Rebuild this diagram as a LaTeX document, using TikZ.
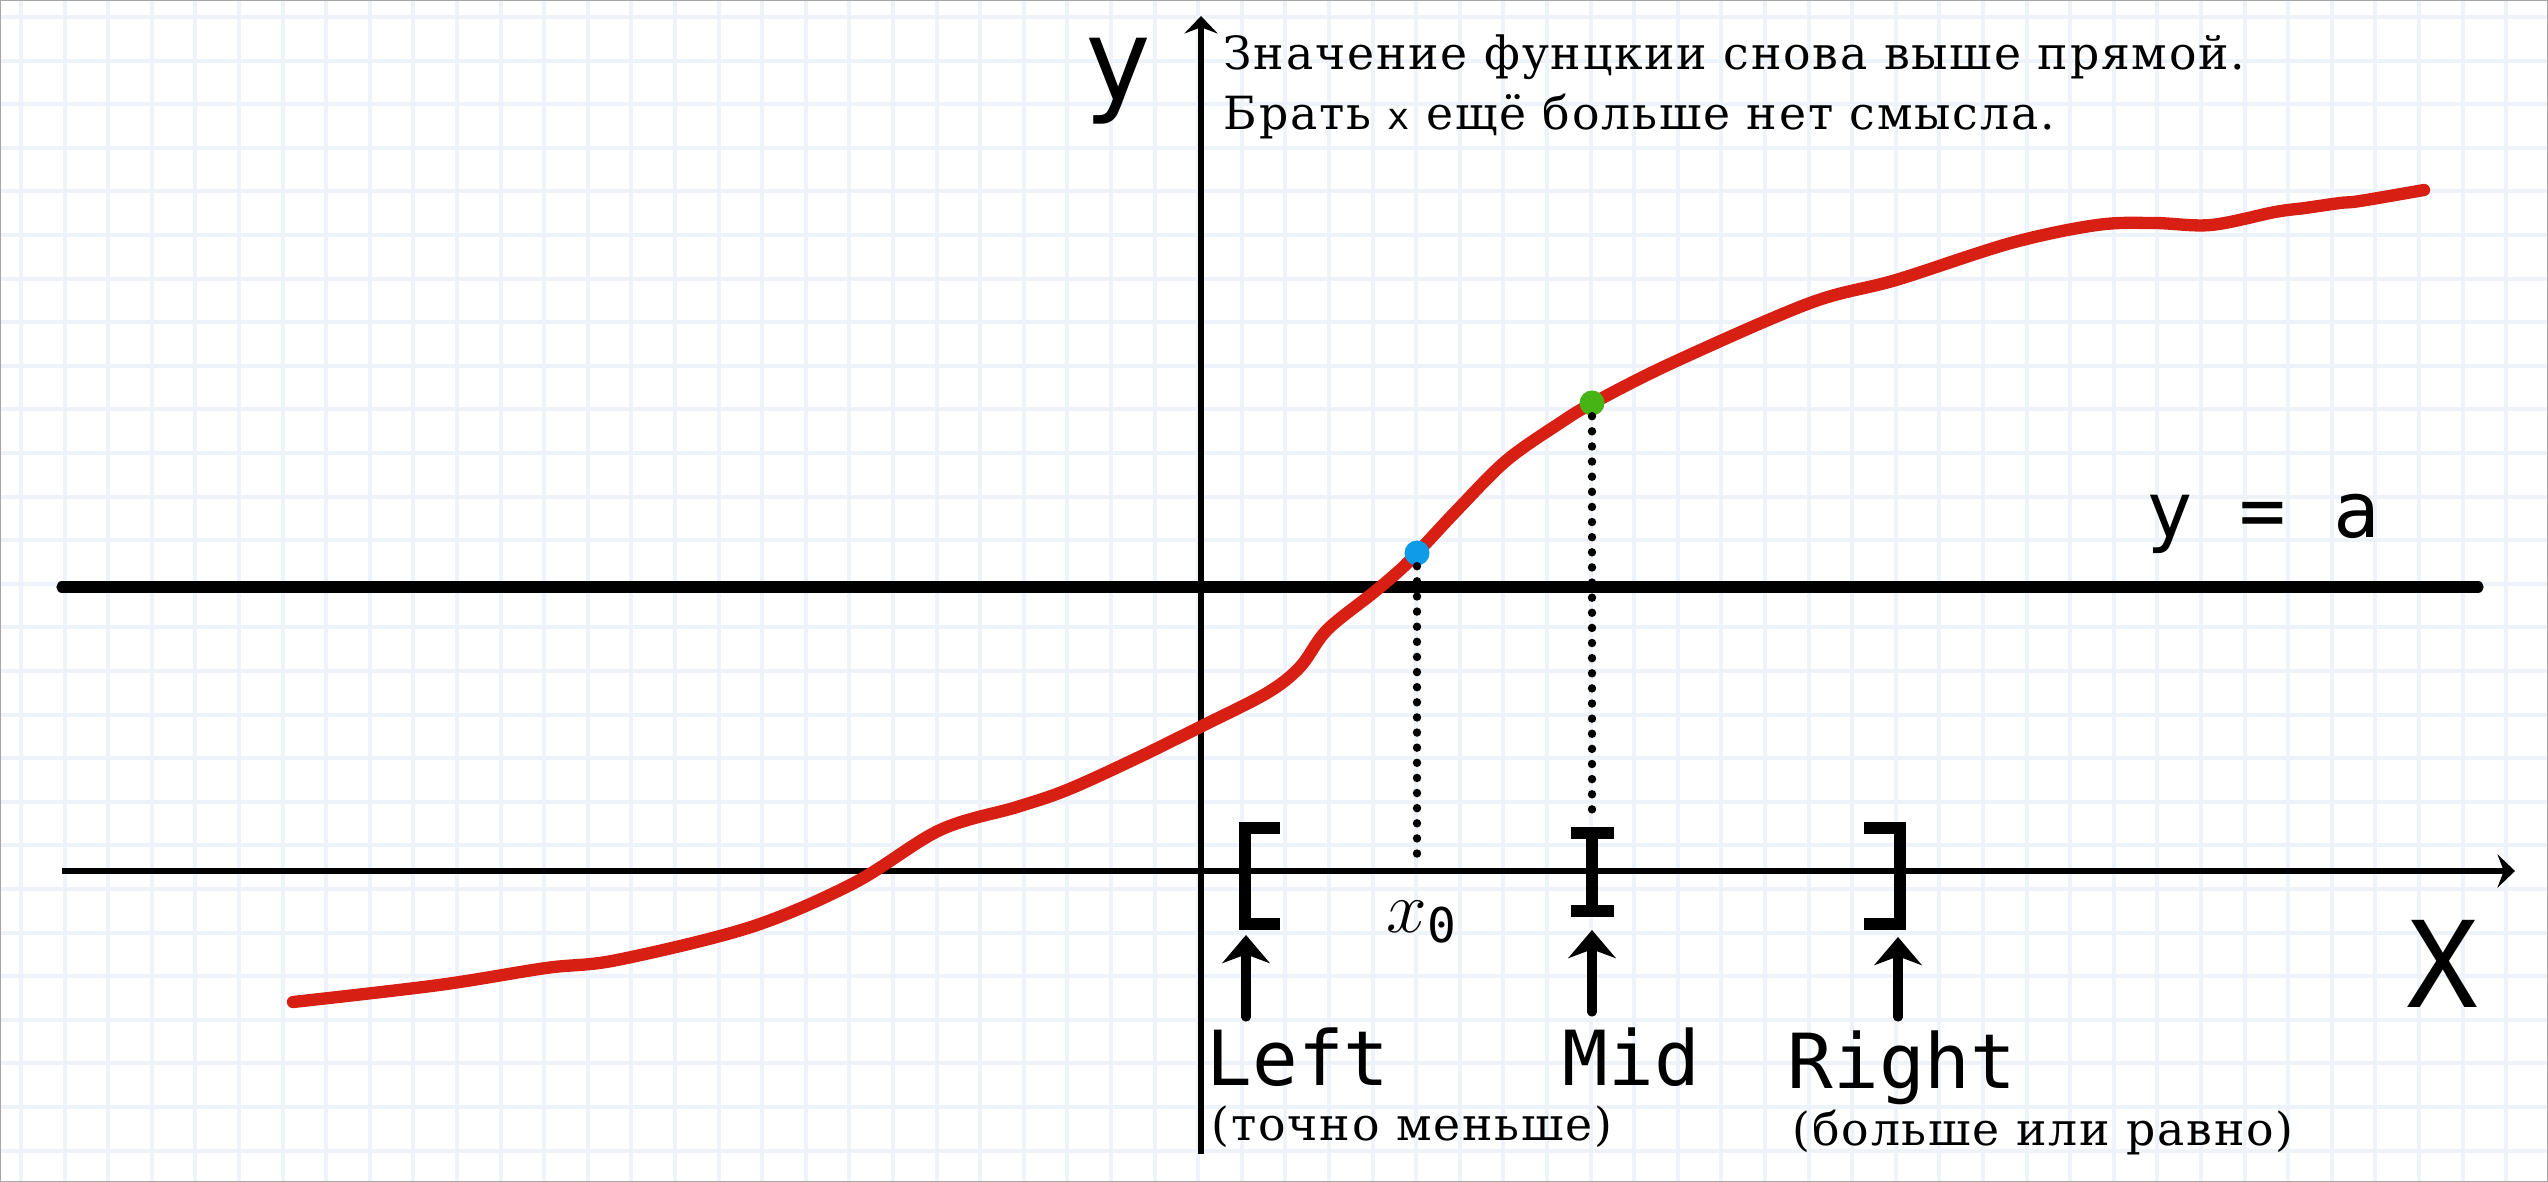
\documentclass[tikz,border=0pt]{standalone}
\usepackage{fontspec}
\newfontfamily\serifmono[LetterSpace=4]{DejaVu Serif}
\newfontfamily\sansmono{DejaVu Sans Mono}
\usetikzlibrary{arrows.meta}
\usetikzlibrary{positioning}

\definecolor{gridblue}{HTML}{EEF3FA}
\definecolor{curvered}{HTML}{D81F14}
\definecolor{dotblue}{HTML}{0E9BE8}
\definecolor{dotgreen}{HTML}{46B414}

\tikzset{
  gridline/.style={draw=gridblue, line width=1.15pt},
  axis/.style={line width=1.7pt, -{Stealth[length=5pt,width=9.5pt,inset=1.8pt]}},
  level/.style={line width=3.2pt, line cap=round},
  fcurve/.style={draw=curvered, line width=3.5pt, line cap=round, line join=round},
  bracket/.style={line width=3.4pt},
  pointer/.style={line width=2.6pt, line cap=round, -{Stealth[length=8pt,width=13.5pt,inset=2.5pt]}},
  dotline/.style={line width=2.4pt, line cap=round, dash pattern=on 0pt off 4.3pt},
  dot/.style={circle, inner sep=0pt, minimum size=2.5mm},
  bigtxt/.style={inner sep=0pt, font=\sansmono\fontsize{21.6}{24}\selectfont},
  smalltxt/.style={inner sep=0pt, font=\serifmono\fontsize{13}{15}\selectfont},
}

\begin{document}
\begin{tikzpicture}[x=0.01cm, y=-0.01cm]
    \useasboundingbox (0,0) rectangle (2548,1182);
    % squared paper
    \foreach \i in {0,...,57}
        \draw[gridline] ({21+43.6*\i},0) -- ++(0,1182);
    \foreach \j in {0,...,26}
        \draw[gridline] (0,{17+43.6*\j}) -- ++(2548,0);
    \draw[gray!70, line width=0.5pt] (0,0) rectangle (2548,1182);

    % axes and the level y = a
    \coordinate (yfoot) at (1201,1154);
    \coordinate (ytip) at (1201,16);
    \coordinate (xfoot) at (62,871);
    \coordinate (xtip) at (2515,871);
    \draw[axis] (yfoot) -- (ytip);
    \draw[axis] (xfoot) -- (xtip);
    \coordinate (lvlL) at (62,587);
    \coordinate (lvlR) at (2478,587);
    \draw[level] (lvlL) -- (lvlR);

    \node[inner sep=0pt, anchor=base, font=\sansmono\fontsize{32.4}{36}\selectfont] (ylab) at (1118,101) {y};
    \node[inner sep=0pt, anchor=base, font=\sansmono\fontsize{34}{38}\selectfont] (xlab) at (2442,1007) {X};
    \node[bigtxt, anchor=base west, font=\sansmono\fontsize{22}{24}\selectfont] (lvllab) at (2146,537) {y = a};

    % the function
    \draw[fcurve] plot[smooth, tension=0.55] coordinates {
        (293,1002) (439,985) (546,968) (617,960) (751,927) (854,883)
        (940,830) (1017,807) (1067,790) (1133,760) (1202,726) (1267,693)
        (1300,667) (1327,630) (1373,593) (1400,570) (1417,553) (1460,507)
        (1507,460) (1560,423) (1593,403) (1672,363) (1810,303) (1896,280)
        (2011,243) (2097,225) (2154,223) (2211,225) (2275,212) (2305,208)
        (2340,203) (2360,201) (2424,190)};

    \node[dot, fill=dotblue] (x0pt) at (1417,553) {};
    \node[dot, fill=dotgreen] (midpt) at (1592,403) {};
    \coordinate (x0foot) at (1417,857);
    \coordinate (midfoot) at (1592,820);
    \draw[dotline] (x0pt.south) -- (x0foot);
    \draw[dotline] (midpt.south) -- (midfoot);

    % search interval
    \draw[bracket] (1280,828) -- (1245,828) -- (1245,924) -- (1280,924);
    \draw[bracket] (1592,833) -- (1592,911);
    \draw[bracket] (1571,833) -- (1614,833);
    \draw[bracket] (1571,911) -- (1614,911);
    \draw[bracket] (1864,828) -- (1900,828) -- (1900,924) -- (1864,924);

    \node[inner sep=0pt, anchor=base west, font=\fontsize{22.5}{24}\selectfont] (x0lab) at (1386,932)
        {$x_{\hbox{\sansmono\fontsize{13.6}{15}\selectfont 0}}$};

    \coordinate (lfoot) at (1246,1017);
    \coordinate (ltip) at (1246,935);
    \coordinate (mfoot) at (1592,1012);
    \coordinate (mtip) at (1592,930);
    \coordinate (rfoot) at (1898,1017);
    \coordinate (rtip) at (1898,937);
    \draw[pointer] (lfoot) -- (ltip);
    \draw[pointer] (mfoot) -- (mtip);
    \draw[pointer] (rfoot) -- (rtip);

    \node[bigtxt, anchor=base west] (leftlab) at (1206,1085) {Left};
    \node[bigtxt, anchor=base west] (midlab) at (1562,1085) {Mid};
    \node[bigtxt, anchor=base west] (rightlab) at (1787,1088) {Right};
    \node[smalltxt, anchor=base west] (leftnote) at (1211,1140) {(точно меньше)};
    \node[smalltxt, anchor=base west] (rightnote) at (1792,1145) {(больше или равно)};

    % remark at the top
    \node[smalltxt, anchor=base west] (note1) at (1223,70) {Значение фунцкии снова выше прямой.};
    \node[smalltxt, anchor=base west] (note2) at (1223,130)
        {Брать {\sansmono\fontsize{10.5}{12}\selectfont x} ещё больше нет смысла.};
\end{tikzpicture}
\end{document}
